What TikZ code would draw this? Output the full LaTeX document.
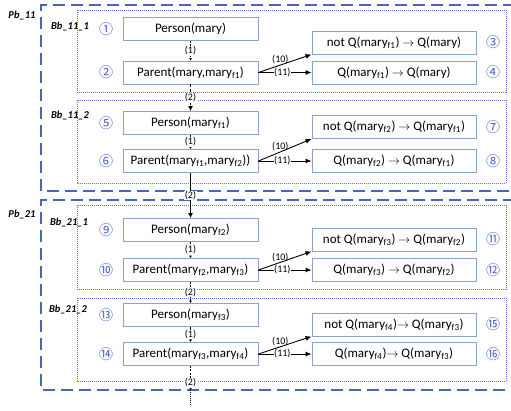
\documentclass[tikz,border=0pt]{standalone}
\usepackage{fontspec}
\setmainfont{Carlito}
\newfontfamily\circfont{Noto Sans CJK JP}
\usetikzlibrary{arrows.meta}
\definecolor{boxc}{HTML}{8AA4C8}
\definecolor{dashc}{HTML}{4A66BC}
\definecolor{dotc}{HTML}{5A78DC}
\definecolor{numc}{HTML}{4A5FD0}
\newcommand{\mf}[1]{mary\textsubscript{f#1}}
\tikzset{
  lbox/.style={draw=boxc, line width=0.9pt, minimum width=135pt, minimum height=23pt, inner sep=0pt, font=\fontsize{13}{14}\selectfont},
  rbox/.style={draw=boxc, line width=0.9pt, minimum width=164pt, minimum height=23pt, inner sep=0pt, font=\fontsize{13}{14}\selectfont},
  num/.style={text=numc, font=\circfont\fontsize{14}{15}\selectfont, inner sep=0pt},
  pbframe/.style={draw=dashc, line width=1.8pt, dash pattern=on 12pt off 6pt},
  bbframe/.style={draw=dotc, line width=1pt, dash pattern=on 1pt off 1pt},
  grplab/.style={font=\fontsize{10.5}{11}\selectfont\bfseries\itshape},
  conlab/.style={fill=white, inner sep=0.6pt, font=\fontsize{10}{10}\selectfont},
  smallarr/.style={-{Latex[length=2.5pt,width=3pt]}, line width=0.8pt},
  bigarr/.style={-{Latex[length=5pt,width=5pt]}, line width=0.9pt},
  sidearr/.style={-{Latex[length=6pt,width=5pt]}, line width=0.9pt}
}
\begin{document}
\begin{tikzpicture}[x=1pt,y=-1pt]
\useasboundingbox (0,0) rectangle (511,410);
% outer dashed frames
\draw[pbframe] (515,5) -- (41,5) -- (41,191) -- (515,191);
\draw[pbframe] (515,200) -- (41,200) -- (41,390) -- (515,390);
\node[grplab] (pb11) at (22,16) {Pb\_11};
\node[grplab] (pb21) at (22,215) {Pb\_21};
% inner dotted frames
\draw[bbframe] (77,10) rectangle (506,92);
\draw[bbframe] (77,100) rectangle (506,183);
\draw[bbframe] (77,205) rectangle (506,289);
\draw[bbframe] (77,298) rectangle (506,381);
\node[grplab] (bb111) at (70,27) {Bb\_11\_1};
\node[grplab] (bb112) at (70,116) {Bb\_11\_2};
\node[grplab] (bb211) at (69,223) {Bb\_21\_1};
\node[grplab] (bb212) at (68,310) {Bb\_21\_2};
% left boxes
\node[lbox] (a1) at (190.5,29) {Person(mary)};
\node[lbox] (b1) at (190.5,72.5) {Parent(mary,\mf{1})};
\node[lbox] (a2) at (190.5,123) {Person(\mf{1})};
\node[lbox] (b2) at (190.5,161) {Parent(\mf{1},\mf{2}))};
\node[lbox] (a3) at (190.5,230) {Person(\mf{2})};
\node[lbox] (b3) at (190.5,270) {Parent(\mf{2},\mf{3})};
\node[lbox] (a4) at (190.5,315) {Person(\mf{3})};
\node[lbox] (b4) at (190.5,354) {Parent(\mf{3},\mf{4})};
% right boxes
\node[rbox] (r1) at (394,42.5) {not Q(\mf{1}) $\rightarrow$ Q(mary)};
\node[rbox] (s1) at (394,72.5) {Q(\mf{1}) $\rightarrow$ Q(mary)};
\node[rbox] (r2) at (394,127) {not Q(\mf{2}) $\rightarrow$ Q(\mf{1})};
\node[rbox] (s2) at (394,161) {Q(\mf{2}) $\rightarrow$ Q(\mf{1})};
\node[rbox] (r3) at (394,239.5) {not Q(\mf{3}) $\rightarrow$ Q(\mf{2})};
\node[rbox] (s3) at (394,270) {Q(\mf{3}) $\rightarrow$ Q(\mf{2})};
\node[rbox] (r4) at (394,324.5) {not Q(\mf{4})$\rightarrow$ Q(\mf{3})};
\node[rbox] (s4) at (394,354) {Q(\mf{4})$\rightarrow$ Q(\mf{3})};
% circled numbers
\node[num] (n1) at (106,29) {①};
\node[num] (n2) at (106,72.5) {②};
\node[num] (n5) at (106,123) {⑤};
\node[num] (n6) at (106,161) {⑥};
\node[num] (n9) at (106,230) {⑨};
\node[num] (n10) at (106,270) {⑩};
\node[num] (n13) at (106,315) {⑬};
\node[num] (n14) at (106,354) {⑭};
\node[num] (n3) at (493,42.5) {③};
\node[num] (n4) at (493,72.5) {④};
\node[num] (n7) at (493,127) {⑦};
\node[num] (n8) at (493,161) {⑧};
\node[num] (n11) at (493,239.5) {⑪};
\node[num] (n12) at (493,270) {⑫};
\node[num] (n15) at (493,324.5) {⑮};
\node[num] (n16) at (493,354) {⑯};
% vertical connectors
\draw[smallarr, dash pattern=on 2pt off 1.5pt] (a1) -- node[conlab]{(1)} (b1);
\draw[bigarr, dash pattern=on 3pt off 1.5pt] (b1) -- node[conlab]{(2)} (a2);
\draw[smallarr] (a2) -- node[conlab]{(1)} (b2);
\draw[bigarr] (b2) -- node[conlab]{(2)} (a3);
\draw[smallarr, dash pattern=on 2pt off 1.5pt] (a3) -- node[conlab]{(1)} (b3);
\draw[smallarr, dash pattern=on 2pt off 1.5pt] (b3) -- node[conlab]{(2)} (a4);
\draw[smallarr] (a4) -- node[conlab]{(1)} (b4);
\coordinate (end) at (190.5,390);
\coordinate (tail) at (190.5,405);
\draw[smallarr, dash pattern=on 2pt off 1.5pt] (b4) -- node[conlab, pos=0.7]{(2)} (end);
\draw[line width=0.8pt, dash pattern=on 1pt off 1pt] (end) -- (tail);
% side connectors
\foreach \b/\r/\s in {b1/r1/s1, b2/r2/s2, b3/r3/s3, b4/r4/s4}{
  \draw[sidearr] (\b.east) -- node[conlab, fill=none, pos=0.45, above=-1pt, xshift=-2pt]{(10)} (\r.south west);
  \draw[sidearr] (\b.east) -- node[conlab, pos=0.45]{(11)} (\s.west);
}
\end{tikzpicture}
\end{document}
